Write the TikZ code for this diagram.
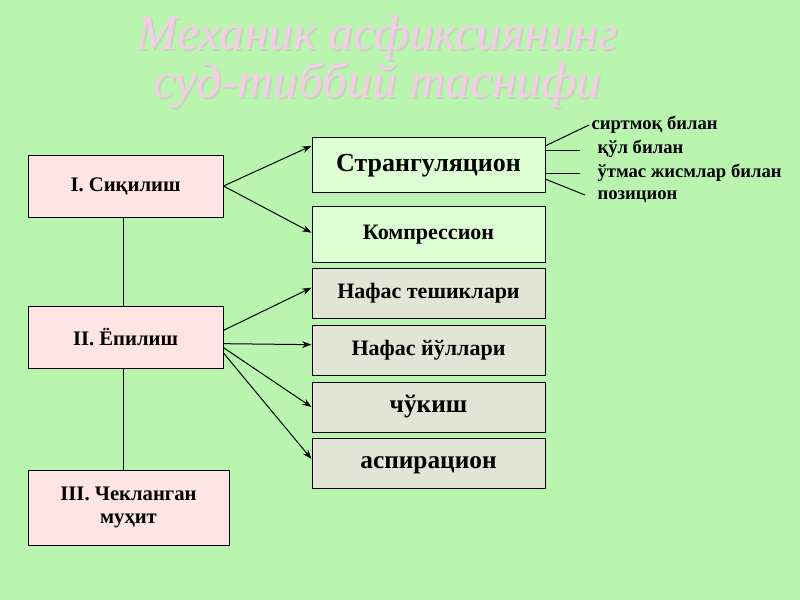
\documentclass[tikz,border=0pt]{standalone}
\usepackage{fontspec}
\setmainfont{Liberation Serif}
\usetikzlibrary{arrows.meta}
\definecolor{bggreen}{RGB}{186,245,176}
\definecolor{leftpink}{RGB}{255,228,228}
\definecolor{rightgreen}{RGB}{222,255,212}
\definecolor{rightgray}{RGB}{226,228,214}
\definecolor{titlepink}{RGB}{246,204,232}
\tikzset{every picture/.style={line width=0.75pt}}
\tikzset{
  leftbox/.style={draw, fill=leftpink, minimum width=146.25pt, minimum height=46.5pt, align=center, font=\bfseries\fontsize{15.5}{17}\selectfont},
  rightbox/.style={draw, fill=rightgray, minimum width=174.75pt, minimum height=37.5pt, text height=11pt, text depth=3pt, align=center, font=\bfseries\fontsize{16.5}{18}\selectfont},
  arr/.style={-{Stealth[length=7pt,width=5pt]}},
  sublabel/.style={anchor=west, inner sep=0pt, font=\bfseries\fontsize{14}{16}\selectfont}
}
\begin{document}
\begin{tikzpicture}[x=0.75pt,y=0.75pt,yscale=-1,xscale=1]
        \fill[bggreen] (0,0) rectangle (800,600);
        \useasboundingbox (0,0) rectangle (800,600);
        % title
        \node[titlepink!60!gray, opacity=0.4, font=\itshape\fontsize{37}{36}\selectfont, align=center] at (379,64) {Механик асфиксиянинг\\суд-тиббий таснифи};
        \node (title) [titlepink, font=\itshape\fontsize{37}{36}\selectfont, align=center] at (377,62) {Механик асфиксиянинг\\суд-тиббий таснифи};
        % left column
        \node (sik) [leftbox] at (125.5,186) {I. Сиқилиш};
        \node (yop) [leftbox] at (125.5,337) {II. Ёпилиш};
        \node (chek) [leftbox, minimum width=150.75pt, minimum height=56.25pt] at (128.5,507.5) {III. Чекланган\\муҳит};
        \draw (123,217) -- (123,306);
        \draw (123,368) -- (123,470);
        % right column
        \node (strang) [rightbox, fill=rightgreen, minimum height=41.25pt, text height=14pt, text depth=4pt, font=\bfseries\fontsize{19.5}{21}\selectfont] at (428.5,164.5) {Странгуляцион};
        \node (komp) [rightbox, fill=rightgreen, minimum height=42pt] at (428.5,234) {Компрессион};
        \node (teshik) [rightbox] at (428.5,293) {Нафас тешиклари};
        \node (yullar) [rightbox] at (428.5,350) {Нафас йўллари};
        \node (chukish) [rightbox, font=\bfseries\fontsize{19}{21}\selectfont] at (428.5,407) {чўкиш};
        \node (aspir) [rightbox, font=\bfseries\fontsize{19}{21}\selectfont] at (428.5,463) {аспирацион};
        % arrows
        \draw[arr] (sik.east) -- ([yshift=-14pt]strang.west);
        \draw[arr] (sik.east) -- ([yshift=-1pt]komp.west);
        \draw[arr] ([yshift=-5pt]yop.east) -- ([yshift=-4pt]teshik.west);
        \draw[arr] ([yshift=5pt]yop.east) -- ([yshift=-4pt]yullar.west);
        \draw[arr] ([yshift=8pt]yop.east) -- (chukish.west);
        \draw[arr] ([yshift=12pt]yop.east) -- ([yshift=-3pt]aspir.west);
        % strangulation kinds
        \node (sirt) [sublabel] at (591,125) {сиртмоқ билан};
        \node (qul) [sublabel] at (597,149) {қўл билан};
        \node (utmas) [sublabel] at (597,173) {ўтмас жисмлар билан};
        \node (pozit) [sublabel] at (597,197) {позицион};
        \draw ([yshift=-14pt]strang.east) -- (589,125);
        \draw (545,150) -- (580,150);
        \draw (545,173) -- (580,173);
        \draw ([yshift=11pt]strang.east) -- (585,195);
\end{tikzpicture}
\end{document}
